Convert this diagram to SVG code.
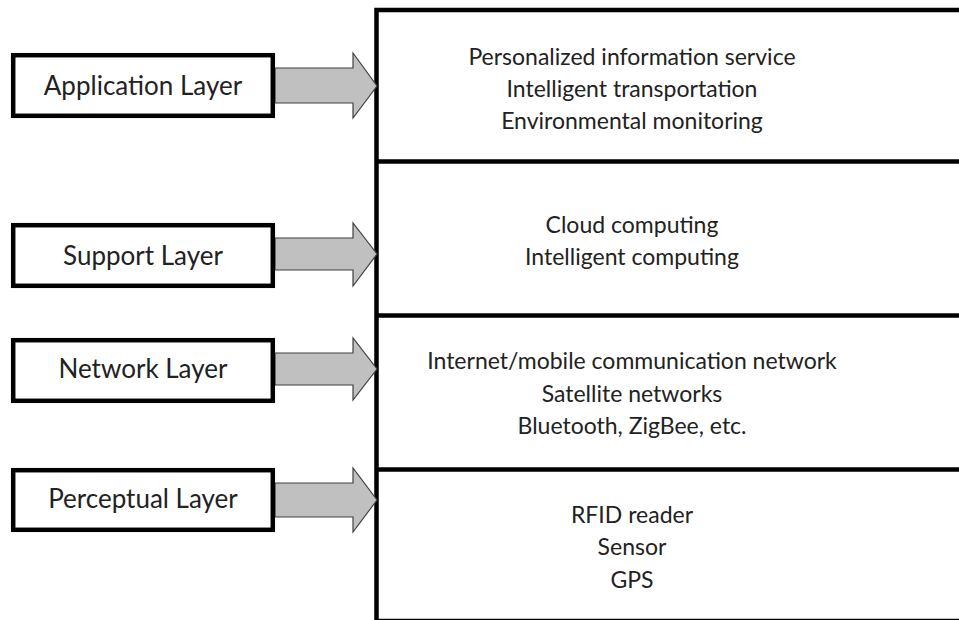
<svg xmlns="http://www.w3.org/2000/svg" width="959" height="620" viewBox="0 0 959 620">
<style>
.box{fill:#fff;stroke:#000;stroke-width:4.5}
.arr{fill:#c0c0c0;stroke:#404040;stroke-width:1.2;stroke-linejoin:miter}
.lbl{font-family:Lato,"Liberation Sans",sans-serif;font-size:26px;fill:#222;text-anchor:middle}
.item{font-family:Lato,"Liberation Sans",sans-serif;font-size:23px;fill:#222;text-anchor:middle}
.div{stroke:#000;stroke-width:4.5}
</style>
<rect width="959" height="620" fill="#fff"/>
<g id="stack">
<rect class="box" x="376.5" y="10" width="700" height="611"/>
<line class="div" x1="376" y1="161.5" x2="959" y2="161.5"/>
<line class="div" x1="376" y1="315.5" x2="959" y2="315.5"/>
<line class="div" x1="376" y1="469.5" x2="959" y2="469.5"/>
</g>
<g id="connectors">
<polygon class="arr" points="275,68 353,68 353,53 377,86 353,118 353,103 275,103"/>
<polygon class="arr" points="275,238 353,238 353,223 377,254 353,286 353,270 275,270"/>
<polygon class="arr" points="275,353 353,353 353,338 377,369 353,400 353,385 275,385"/>
<polygon class="arr" points="275,483 353,483 353,468 377,500 353,532 353,517 275,517"/>
</g>
<g id="app-layer">
<rect class="box" x="13.2" y="55.2" width="259.6" height="60.6"/>
<text class="lbl" x="143" y="95">Application Layer</text>
</g>
<g id="support-layer">
<rect class="box" x="13.2" y="225.2" width="259.6" height="60.6"/>
<text class="lbl" x="143" y="265">Support Layer</text>
</g>
<g id="network-layer">
<rect class="box" x="13.2" y="340.2" width="259.6" height="60.6"/>
<text class="lbl" x="143" y="378">Network Layer</text>
</g>
<g id="perceptual-layer">
<rect class="box" x="13.2" y="470.2" width="259.6" height="59.6"/>
<text class="lbl" x="143" y="508">Perceptual Layer</text>
</g>
<g id="app-items">
<text class="item" x="632" y="65">Personalized information service</text>
<text class="item" x="632" y="97">Intelligent transportation</text>
<text class="item" x="632" y="129">Environmental monitoring</text>
</g>
<g id="support-items">
<text class="item" x="632" y="233">Cloud computing</text>
<text class="item" x="632" y="265">Intelligent computing</text>
</g>
<g id="network-items">
<text class="item" x="632" y="369">Internet/mobile communication network</text>
<text class="item" x="632" y="402">Satellite networks</text>
<text class="item" x="632" y="434">Bluetooth, ZigBee, etc.</text>
</g>
<g id="perceptual-items">
<text class="item" x="632" y="523">RFID reader</text>
<text class="item" x="632" y="555">Sensor</text>
<text class="item" x="632" y="588">GPS</text>
</g>
</svg>
